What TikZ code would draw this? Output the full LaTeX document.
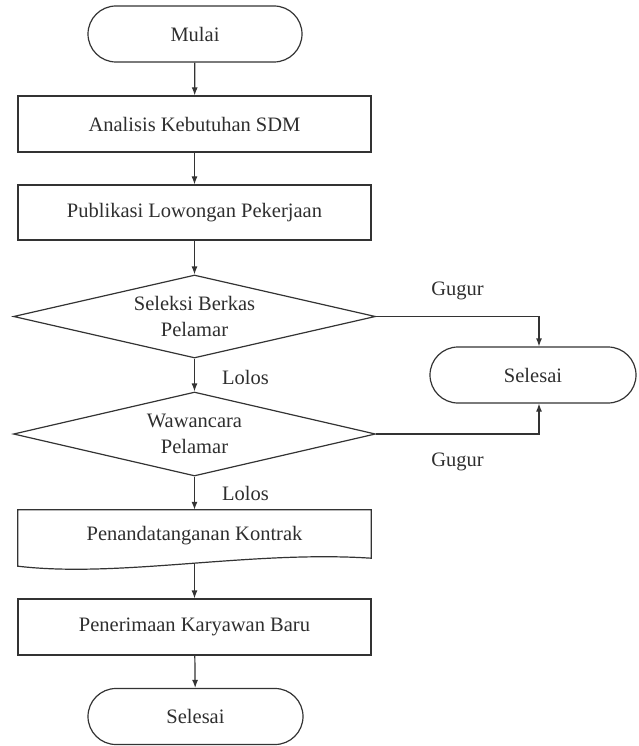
\documentclass[tikz,border=0pt]{standalone}
\usepackage{fontspec}
\setmainfont{Liberation Serif}
\usetikzlibrary{shapes.geometric,shapes.misc,arrows.meta}
\definecolor{ln}{HTML}{333333}
\definecolor{txt}{HTML}{2E2E2E}
\begin{document}
\begin{tikzpicture}[x=1pt,y=-1pt,
  every node/.style={font=\fontsize{20.5}{26}\selectfont, text=txt},
  proc/.style={draw=ln, line width=1.2pt, minimum width=353pt, minimum height=56pt, inner sep=0pt},
  term/.style={draw=ln, line width=1.2pt, rounded rectangle, minimum width=214pt, minimum height=56pt, inner sep=0pt},
  dec/.style={draw=ln, line width=1.2pt, diamond, aspect=4.36, minimum width=362pt, minimum height=83pt, inner sep=0pt, align=center},
  conn/.style={draw=ln, line width=1.2pt, -{Latex[length=8pt,width=6pt]}},
  lbl/.style={inner sep=0pt}]
\useasboundingbox (0,0) rectangle (638,746);
\node[term] (start) at (195,34) {Mulai};
\node[proc] (a1) at (194.5,124) {Analisis Kebutuhan SDM};
\node[proc, minimum height=55pt] (a2) at (194.5,212.5) {Publikasi Lowongan Pekerjaan};
\node[dec] (d1) at (194.5,316.5) {Seleksi Berkas\\Pelamar};
\node[term, minimum width=206pt] (sel1) at (533,375) {Selesai};
\node[dec, minimum height=84pt] (d2) at (194.5,434) {Wawancara\\Pelamar};
\node[minimum width=353pt, minimum height=52pt, inner sep=0pt] (doc) at (194.5,536) {Penandatanganan Kontrak};
\draw[draw=ln, line width=1.2pt] (doc.north west) -- (doc.north east) -- ([yshift=4pt]doc.south east)
  .. controls ([xshift=55.5pt,yshift=12pt]doc.south) and ([xshift=-74.5pt,yshift=-16pt]doc.south) .. ([yshift=-4pt]doc.south west) -- cycle;
\node[proc] (a3) at (194.5,627) {Penerimaan Karyawan Baru};
\node[term, minimum width=215pt] (end) at (195.5,716.5) {Selesai};

\draw[conn] (start) -- (a1);
\draw[conn] (a1) -- (a2);
\draw[conn] (a2) -- (d1);
\draw[conn] (d1.east) -| node[lbl, pos=0.25, yshift=26pt] {Gugur} ([xshift=6pt]sel1.north);
\draw[conn] (d1) -- node[lbl, midway, right, xshift=27pt, yshift=-2pt] {Lolos} (d2);
\draw[conn] (d2.east) -| node[lbl, pos=0.25, yshift=-28pt] {Gugur} ([xshift=6pt]sel1.south);
\draw[conn] (d2) -- node[lbl, midway, right, xshift=27pt] {Lolos} (doc);
\draw[conn] ([yshift=-1.5pt]doc.south) -- (a3);
\draw[conn] (a3) -- (end);
\end{tikzpicture}
\end{document}
